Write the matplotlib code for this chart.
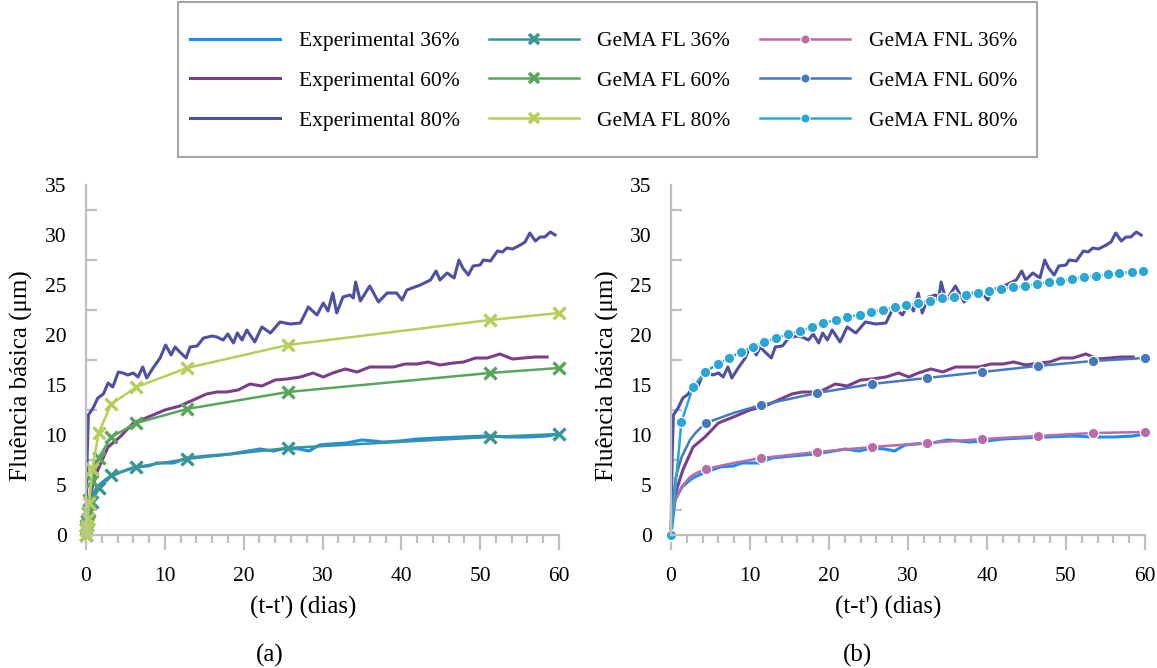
import numpy as np
import matplotlib
matplotlib.use("Agg")
import matplotlib.pyplot as plt
from matplotlib.lines import Line2D
from matplotlib.patches import Rectangle

plt.rcParams['font.family'] = ['Liberation Serif', 'DejaVu Serif']

# ---------------- data ----------------
# Experimental basic creep (time in days, creep in µm)
exp36_t = [0, 0.5, 1.4, 2.4, 3.0, 4.1, 6.2, 7.9, 9.0, 11.1, 12.8, 15.3, 18.3, 22.1,
           23.8, 25.5, 27.0, 28.3, 29.6, 31.0, 33.0, 35.0, 36.5, 37.7, 39.8, 42.0,
           44.5, 47.5, 50.9, 53.4, 56.0, 58.5, 59.9]
exp36_v = [0, 3.5, 4.8, 5.5, 5.8, 6.2, 6.8, 6.9, 7.2, 7.2, 7.7, 7.9, 8.1, 8.6,
           8.4, 8.7, 8.6, 8.4, 9.0, 9.1, 9.2, 9.5, 9.4, 9.3, 9.4, 9.6,
           9.7, 9.8, 9.9, 9.8, 9.8, 9.9, 10.1]

exp60_t = [0, 0.1, 0.7, 1.5, 2.8, 4.3, 6.0, 7.9, 10.0, 11.9, 13.6, 15.3, 16.6, 17.8,
           19.3, 20.8, 22.3, 24.0, 25.5, 27.2, 28.8, 30.1, 31.3, 32.9, 34.4, 36.0,
           39.0, 40.5, 42.0, 43.4, 44.9, 46.6, 47.9, 49.4, 50.9, 52.5, 54.1, 55.5,
           57.0, 58.5]
exp60_v = [0, 1.5, 4.5, 6.5, 8.8, 9.8, 11.2, 11.8, 12.5, 12.9, 13.5, 14.1, 14.3, 14.3,
           14.5, 15.1, 14.9, 15.5, 15.6, 15.8, 16.2, 15.8, 16.2, 16.6, 16.3, 16.8,
           16.8, 17.1, 17.1, 17.3, 17.0, 17.2, 17.3, 17.7, 17.7, 18.1, 17.6, 17.7,
           17.8, 17.8]

exp80_t = [0, 0.15, 0.3, 0.9, 1.5, 2.2, 2.8, 3.4, 4.1, 4.7, 5.3, 6.0, 6.6, 7.2, 7.7,
           8.5, 9.4, 10.1, 10.8, 11.3, 11.9, 12.7, 13.2, 14.1, 14.9, 16.0, 16.6, 17.4,
           18.0, 18.7, 19.2, 19.8, 20.4, 21.4, 22.3, 23.4, 24.6, 25.9, 27.2, 28.2,
           29.3, 30.1, 30.7, 31.3, 31.8, 32.6, 33.5, 33.9, 34.2, 34.8, 36.0, 37.1,
           38.2, 39.4, 40.1, 40.7, 42.4, 43.7, 44.4, 44.9, 45.8, 46.7, 47.3, 47.8,
           48.5, 49.1, 50.0, 50.4, 51.3, 52.2, 52.8, 53.4, 54.1, 55.1, 55.7, 56.3,
           57.0, 57.6, 58.2, 58.9, 59.5]
exp80_v = [0, 8.0, 12.0, 12.7, 13.7, 14.1, 15.2, 14.8, 16.3, 16.2, 16.0, 16.2, 15.8,
           16.8, 15.7, 16.7, 17.7, 19.0, 18.0, 18.8, 18.3, 17.7, 18.8, 18.9, 19.7,
           19.9, 19.8, 19.5, 20.1, 19.2, 20.2, 19.5, 20.5, 19.3, 20.8, 20.2, 21.3,
           21.1, 21.2, 22.8, 22.0, 23.2, 22.4, 24.2, 22.2, 23.8, 24.0, 23.7, 25.3,
           23.4, 24.9, 23.3, 24.2, 24.2, 23.5, 24.5, 25.0, 25.5, 26.4, 25.5, 26.2,
           25.7, 27.5, 26.7, 26.0, 26.9, 27.0, 27.5, 27.4, 28.4, 28.3, 28.7, 28.6,
           29.0, 29.3, 30.2, 29.4, 29.8, 29.8, 30.3, 30.0]

# GeMA, linear creep model (FL)
fl_t = [0, 0.05, 0.1, 0.2, 0.4, 0.8, 1.6, 3.2, 6.4, 12.8, 25.6, 51.2, 60]
fl36 = [0, 0.6, 1.0, 1.6, 2.4, 3.3, 4.7, 6.0, 6.8, 7.6, 8.7, 9.8, 10.1]
fl60 = [0, 0.9, 1.4, 2.2, 3.5, 5.4, 7.7, 9.8, 11.2, 12.6, 14.3, 16.2, 16.7]
fl80 = [0, 0.5, 0.9, 1.6, 3.2, 6.6, 10.2, 13.1, 14.8, 16.7, 19.0, 21.5, 22.2]

# GeMA, non-linear creep model (FNL)
fnl_t = [0, 0.1, 0.6, 1.35, 2.4, 3.2, 4.4, 7.9, 11.4, 18.5, 25.4, 32.4, 39.4,
         46.4, 53.4, 60]
fnl36 = [0, 1.6, 3.6, 4.8, 5.8, 6.2, 6.6, 7.2, 7.7, 8.3, 8.8, 9.2, 9.6,
         9.9, 10.2, 10.3]
fnl60 = [0, 2.2, 5.8, 7.8, 9.5, 10.3, 11.2, 12.2, 13.0, 14.2, 15.1, 15.7, 16.3,
         16.9, 17.4, 17.7]
fnl_marked = [0, 6, 8, 9, 10, 11, 12, 13, 14, 15]

fnl80_t = [0, 1.32, 2.78, 4.34, 5.89, 7.35, 8.87, 10.33, 11.8, 13.3, 14.86, 16.33,
           17.8, 19.3, 20.86, 22.3, 23.9, 25.3, 26.86, 28.3, 29.8, 31.3, 32.8, 34.3,
           35.8, 37.3, 38.8, 40.3, 41.8, 43.3, 44.8, 46.3, 47.8, 49.3, 50.7, 52.3,
           53.8, 55.3, 56.7, 58.3, 59.8]
fnl80 = [0, 11.3, 14.8, 16.3, 17.1, 17.7, 18.3, 18.8, 19.3, 19.7, 20.1, 20.4,
         20.8, 21.2, 21.5, 21.8, 22.0, 22.3, 22.5, 22.8, 23.0, 23.2, 23.4, 23.7,
         23.8, 24.0, 24.2, 24.4, 24.6, 24.8, 24.9, 25.1, 25.3, 25.4, 25.6, 25.8,
         25.9, 26.1, 26.2, 26.3, 26.4]

x_ticks = [0, 10, 20, 30, 40, 50, 60]
y_ticks = [0, 5, 10, 15, 20, 25, 30, 35]
y_label = "Fluência básica (μm)"
x_label = "(t-t') (dias)"

# ---------------- styles ----------------
C_EXP36 = '#1f8cf0'
C_EXP60 = '#7b3f8a'
C_EXP80 = '#4f4fa3'
C_FL36 = '#3a9696'
C_FL60 = '#5aa55c'
C_FL80 = '#b5cf5a'
C_FNL36 = '#b86ca9'
C_FNL60 = '#4478bf'
C_FNL80 = '#29a6d6'
AXIS_GREY = '#bfbfbf'

exp_kw = dict(lw=2.2, solid_joinstyle='round', clip_on=False)
fl_kw = dict(lw=1.8, marker='x', ms=8, mew=2.4, clip_on=False)
fnl_kw = dict(lw=1.8, marker='o', ms=7.5, mec='white', mew=0.9, clip_on=False)

fig = plt.figure(figsize=(11.57, 6.68), dpi=100)
W, H = 1157, 668
ax1 = fig.add_axes([86 / W, (H - 535) / H, 473 / W, 350 / H])
ax2 = fig.add_axes([671 / W, (H - 535) / H, 474 / W, 350 / H])

# (a) experimental vs linear model
ax1.plot(exp36_t, exp36_v, color=C_EXP36, **exp_kw)
ax1.plot(exp60_t, exp60_v, color=C_EXP60, **exp_kw)
ax1.plot(exp80_t, exp80_v, color=C_EXP80, **exp_kw)
ax1.plot(fl_t, fl36, color=C_FL36, **fl_kw)
ax1.plot(fl_t, fl60, color=C_FL60, **fl_kw)
ax1.plot(fl_t, fl80, color=C_FL80, **fl_kw)

# (b) experimental vs non-linear model
ax2.plot(exp36_t, exp36_v, color=C_EXP36, **exp_kw)
ax2.plot(exp60_t, exp60_v, color=C_EXP60, **exp_kw)
ax2.plot(exp80_t, exp80_v, color=C_EXP80, **exp_kw)
ax2.plot(fnl_t, fnl36, color=C_FNL36, markevery=fnl_marked, **fnl_kw)
ax2.plot(fnl_t, fnl60, color=C_FNL60, markevery=fnl_marked, **fnl_kw)
ax2.plot(fnl80_t, fnl80, color=C_FNL80, **fnl_kw)

for ax in (ax1, ax2):
    ax.set_xlim(0, 60)
    ax.set_ylim(0, 35)
    ax.set_xticks(x_ticks)
    ax.set_xticks(np.arange(0, 61, 2), minor=True)
    ax.set_yticks(y_ticks)
    ax.set_yticks(np.arange(2.5, 35, 5), minor=True)
    for s in ('top', 'right'):
        ax.spines[s].set_visible(False)
    for s in ('left', 'bottom'):
        ax.spines[s].set_color(AXIS_GREY)
        ax.spines[s].set_linewidth(1.6)
    ax.tick_params(axis='x', which='major', direction='out', length=11, width=1.6,
                   color=AXIS_GREY, pad=12, labelsize=15.5)
    ax.tick_params(axis='x', which='minor', direction='out', length=6, width=1.6,
                   color=AXIS_GREY)
    ax.tick_params(axis='y', which='major', length=0, pad=14, labelsize=15.5)
    ax.tick_params(axis='y', which='minor', direction='in', length=8, width=1.6,
                   color=AXIS_GREY)
    ax.set_xlabel(x_label, fontsize=18, va='center')
    ax.set_ylabel(y_label, fontsize=18, va='center', ha='center')
    ax.xaxis.set_label_coords(0.459, -0.206)

ax1.yaxis.set_label_coords(-0.137, 0.454)
ax2.yaxis.set_label_coords(-0.135, 0.454)

fig.text(270 / W, 1 - 655 / H, '(a)', fontsize=18, ha='center', va='center')
fig.text(857 / W, 1 - 655 / H, '(b)', fontsize=18, ha='center', va='center')

# legend shared by both panels
handles = [
    Line2D([], [], color=C_EXP36, lw=2.2),
    Line2D([], [], color=C_EXP60, lw=2.2),
    Line2D([], [], color=C_EXP80, lw=2.2),
    Line2D([], [], color=C_FL36, lw=1.8, marker='x', ms=7.5, mew=2.6),
    Line2D([], [], color=C_FL60, lw=1.8, marker='x', ms=7.5, mew=2.6),
    Line2D([], [], color=C_FL80, lw=1.8, marker='x', ms=7.5, mew=2.6),
    Line2D([], [], color=C_FNL36, lw=1.8, marker='o', ms=6.5, mec='white', mew=0.8),
    Line2D([], [], color=C_FNL60, lw=1.8, marker='o', ms=6.5, mec='white', mew=0.8),
    Line2D([], [], color=C_FNL80, lw=1.8, marker='o', ms=6.5, mec='white', mew=0.8),
]
labels = ['Experimental 36%', 'Experimental 60%', 'Experimental 80%',
          'GeMA FL 36%', 'GeMA FL 60%', 'GeMA FL 80%',
          'GeMA FNL 36%', 'GeMA FNL 60%', 'GeMA FNL 80%']
fig.legend(handles, labels, ncol=3, loc='upper left',
           bbox_to_anchor=(190 / W, 1 - 31 / H), frameon=False, fontsize=15.5,
           handlelength=4.2, handletextpad=0.85, columnspacing=1.35,
           labelspacing=0.92, borderpad=0, borderaxespad=0)
fig.add_artist(Rectangle((178 / W, 1 - 157 / H), (1037 - 178) / W, 155 / H,
                         transform=fig.transFigure, fill=False,
                         edgecolor='#a6a6a6', lw=1.5))

fig.savefig('out.png', dpi=100)
